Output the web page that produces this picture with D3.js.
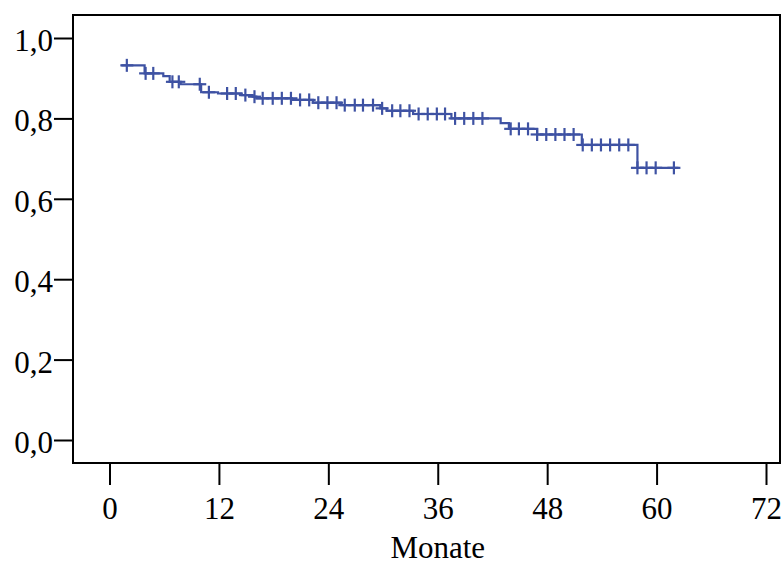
<!DOCTYPE html>
<html>
<head>
<meta charset="utf-8">
<script src="https://cdn.jsdelivr.net/npm/d3@7"></script>
<style>
  body { margin: 0; background: #fff; }
</style>
</head>
<body>
<div id="chart"></div>
<script>
// Kaplan-Meier step curve: time of each step (months) and survival after it
const stepTimes = [1.3, 3.85, 5.9, 6.6, 7.8, 10.05, 11.9, 14.5, 15.7, 16.1, 20.0, 22.3,
                   25.4, 29.7, 30.4, 33.3, 37.5, 42.9, 43.8, 46.9, 51.8, 57.9];
const stepSurv = [0.932, 0.912, 0.905, 0.891, 0.885, 0.865, 0.862, 0.858, 0.854, 0.850, 0.846, 0.839,
                  0.833, 0.825, 0.819, 0.811, 0.800, 0.788, 0.774, 0.760, 0.734, 0.677];
const lastTime = 62.4;

// censored observations (months)
const censorTimes = [1.9, 3.96, 4.8, 6.9, 7.6, 9.9, 10.9, 12.9, 13.85, 14.9, 15.9, 16.8, 17.9, 18.9,
                     19.9, 20.9, 21.9, 22.9, 23.9, 24.9, 25.8, 26.9, 27.8, 28.9, 29.9, 31.0, 31.9,
                     32.9, 33.9, 34.9, 35.9, 36.8, 37.9, 38.9, 39.9, 40.9, 44.0, 44.9, 45.9, 46.9,
                     47.9, 48.9, 49.9, 50.9, 51.9, 52.9, 53.9, 54.9, 55.9, 56.9, 57.9, 58.9, 59.9, 61.9];

const xTicks = [0, 12, 24, 36, 48, 60, 72];
const yTicks = [0, 0.2, 0.4, 0.6, 0.8, 1.0];
const xTitle = 'Monate';

const width = 783, height = 565;
const frame = { left: 73, top: 15, right: 780, bottom: 463 };
const color = '#3e52a3';
const font = '"Liberation Serif", "Times New Roman", Times, serif';
const fontSize = 31;

const svg = d3.select('#chart')
    .append('svg')
    .attr('width', width)
    .attr('height', height)
    .attr('font-family', font);

const x = d3.scaleLinear().domain([0, 72]).range([109.5, 766]);
const y = d3.scaleLinear().domain([0, 1]).range([440, 38]);

const comma = d3.formatLocale({ decimal: ',', thousands: '.', grouping: [3], currency: ['', ''] });

// plot frame
svg.append('rect')
    .attr('x', frame.left)
    .attr('y', frame.top)
    .attr('width', frame.right - frame.left)
    .attr('height', frame.bottom - frame.top)
    .attr('fill', 'none')
    .attr('stroke', '#000')
    .attr('stroke-width', 2);

// y axis
const yAxis = svg.append('g')
    .attr('transform', `translate(${frame.left},0)`)
    .call(d3.axisLeft(y).tickValues(yTicks).tickSize(19).tickPadding(1).tickFormat(comma.format('.1f')));
yAxis.attr('font-family', font).attr('font-size', fontSize);
yAxis.select('.domain').remove();
yAxis.selectAll('line').attr('stroke', '#000').attr('stroke-width', 2);
yAxis.selectAll('text').attr('fill', '#000').attr('dy', '0.4em');

// x axis
const xAxis = svg.append('g')
    .attr('transform', `translate(0,${frame.bottom})`)
    .call(d3.axisBottom(x).tickValues(xTicks).tickSize(22));
xAxis.attr('font-family', font).attr('font-size', fontSize);
xAxis.select('.domain').remove();
xAxis.selectAll('line').attr('stroke', '#000').attr('stroke-width', 2);
xAxis.selectAll('text').attr('fill', '#000').attr('y', 56).attr('dy', 0);

svg.append('text')
    .attr('x', x(36))
    .attr('y', 558)
    .attr('text-anchor', 'middle')
    .attr('font-size', fontSize)
    .attr('fill', '#000')
    .text(xTitle);

// survival step line
const points = stepTimes.map((t, i) => [t, stepSurv[i]]);
points.push([lastTime, stepSurv[stepSurv.length - 1]]);

svg.append('path')
    .datum(points)
    .attr('fill', 'none')
    .attr('stroke', color)
    .attr('stroke-width', 2.2)
    .attr('d', d3.line()
        .x(d => x(d[0]))
        .y(d => y(d[1]))
        .curve(d3.curveStepAfter));

// survival level at a given time
const survAt = t => {
    const i = d3.bisectRight(stepTimes, t) - 1;
    return stepSurv[Math.max(i, 0)];
};

// censor marks
const half = 6.5;
const marks = svg.append('g')
    .attr('stroke', color)
    .attr('stroke-width', 2.2);
censorTimes.forEach(t => {
    const cx = x(t), cy = y(survAt(t));
    marks.append('line')
        .attr('x1', cx - half).attr('x2', cx + half)
        .attr('y1', cy).attr('y2', cy);
    marks.append('line')
        .attr('x1', cx).attr('x2', cx)
        .attr('y1', cy - half).attr('y2', cy + half);
});
</script>
</body>
</html>
